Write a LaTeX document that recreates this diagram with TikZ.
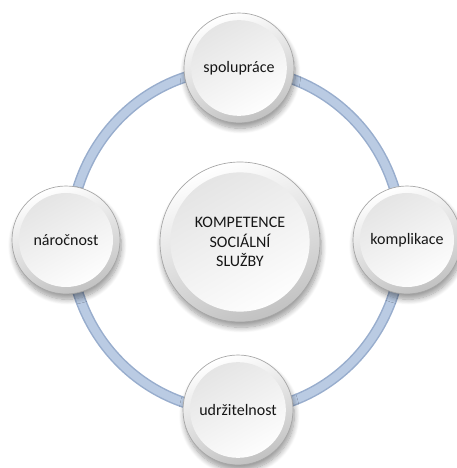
\documentclass[tikz,border=0pt]{standalone}
\usepackage{fontspec}
\setmainfont{Carlito}
\usetikzlibrary{shadows.blur}
\definecolor{ringfill}{HTML}{BACBE3}
\definecolor{ringedge}{HTML}{98ADCD}
\definecolor{txt}{HTML}{161616}
\tikzset{
  btn/.style={circle, inner sep=0pt, minimum size=2*#1, draw=black!35, line width=0.5pt,
    top color=white, bottom color=black!24, shading angle=20,
    blur shadow={shadow xshift=1pt, shadow yshift=-4pt, shadow blur steps=10, shadow opacity=40, shadow blur radius=4pt},
    font=\fontsize{12}{14.5}\selectfont, text=txt, align=center,
    path picture={\shade[top color=black!11, bottom color=white, shading angle=30]
      (path picture bounding box.center) circle[radius=0.87*#1];}},
}
\begin{document}
\begin{tikzpicture}[x=0.75pt,y=0.75pt]
\useasboundingbox (0,0) rectangle (457,468);
% ring
\coordinate (rc) at (236,228);
\draw[ringedge, line width=11*0.75pt] (rc) ellipse[x radius=166, y radius=171];
\draw[ringfill, line width=8*0.75pt] (rc) ellipse[x radius=166, y radius=171];
% buttons
\node[btn=60pt] (core) at (240,226) {KOMPETENCE\\SOCIÁLNÍ\\SLUŽBY};
\node[btn=41.25pt] (top) at (239,400) {spolupráce};
\node[btn=40.5pt] (left) at (66,228) {náročnost};
\node[btn=40.5pt] (right) at (407,228) {komplikace};
\node[btn=41.25pt] (bottom) at (238,58) {udržitelnost};
\end{tikzpicture}
\end{document}
